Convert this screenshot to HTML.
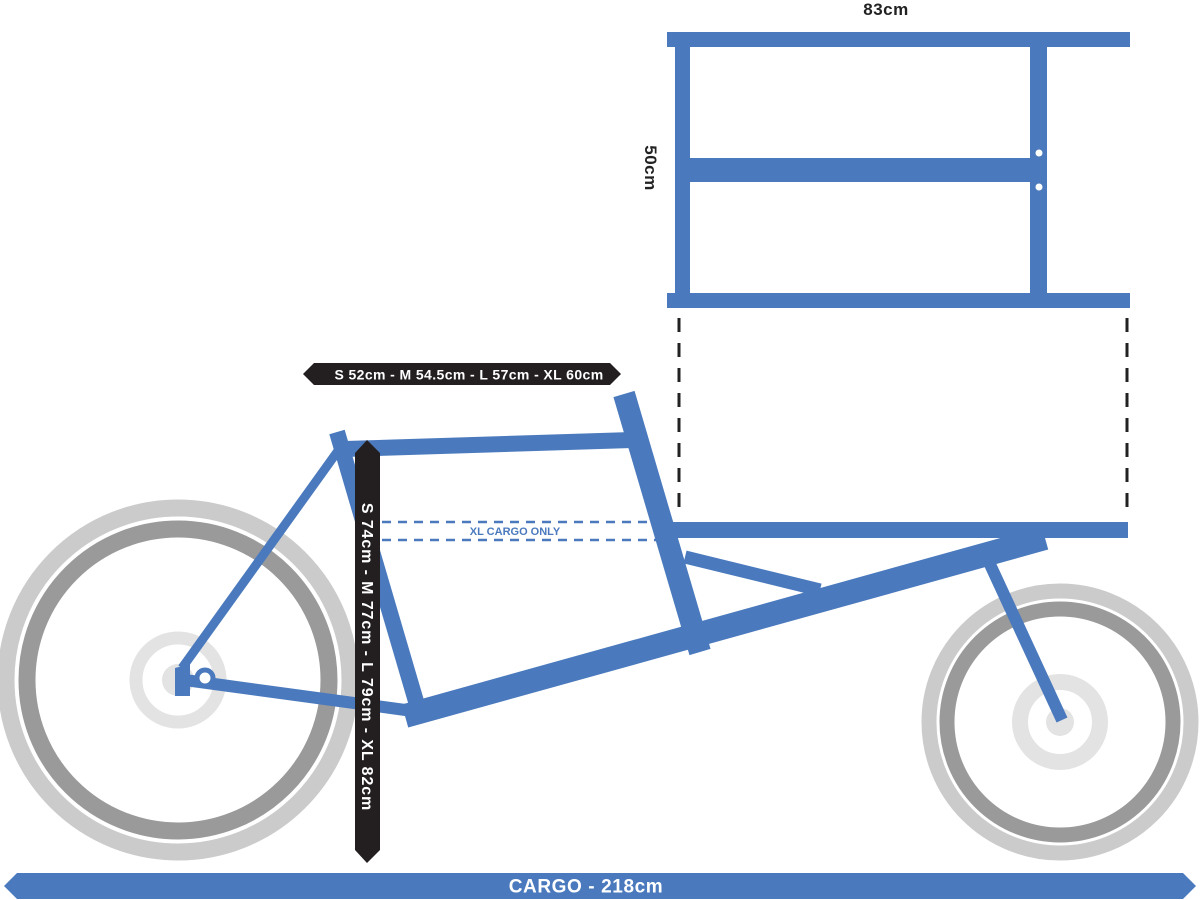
<!DOCTYPE html>
<html><head><meta charset="utf-8"><style>
html,body{margin:0;padding:0;background:#fff;width:1200px;height:900px;overflow:hidden}
svg{display:block}
text{font-family:"Liberation Sans",sans-serif;font-weight:bold}
</style></head><body>
<svg width="1200" height="900" viewBox="0 0 1200 900" xmlns="http://www.w3.org/2000/svg">
<!-- rear wheel -->
<circle cx="178" cy="680" r="172" fill="none" stroke="#cbcbcb" stroke-width="17"/>
<circle cx="178" cy="680" r="151" fill="none" stroke="#9a9a9a" stroke-width="17"/>
<circle cx="178" cy="680" r="42" fill="none" stroke="#e3e3e3" stroke-width="13"/>
<circle cx="178" cy="680" r="16" fill="#e3e3e3"/>
<!-- front wheel -->
<circle cx="1060" cy="722" r="131" fill="none" stroke="#cbcbcb" stroke-width="15"/>
<circle cx="1060" cy="722" r="113" fill="none" stroke="#9a9a9a" stroke-width="15"/>
<circle cx="1060" cy="722" r="40" fill="none" stroke="#e3e3e3" stroke-width="16"/>
<circle cx="1060" cy="722" r="14" fill="#e3e3e3"/>
<g stroke="#4a7abd" fill="none" stroke-linecap="butt">
<line x1="340" y1="448" x2="182" y2="668" stroke-width="9"/>
<line x1="185" y1="680" x2="420" y2="712" stroke-width="12"/>
<line x1="337" y1="432" x2="420" y2="715" stroke-width="16"/>
<line x1="345" y1="449" x2="632" y2="440" stroke-width="16"/>
<line x1="405" y1="716" x2="1045" y2="538" stroke-width="24"/>
<line x1="624" y1="394" x2="700" y2="652" stroke-width="22"/>
<line x1="685" y1="557" x2="820" y2="590" stroke-width="13"/>
<line x1="668" y1="530" x2="1128" y2="530" stroke-width="16"/>
<line x1="988" y1="560" x2="1062" y2="720" stroke-width="12"/>
<circle cx="205" cy="678" r="8" stroke-width="5" fill="#fff"/>
<!-- box -->
<line x1="667" y1="39.5" x2="1130" y2="39.5" stroke-width="15"/>
<line x1="667" y1="300.5" x2="1130" y2="300.5" stroke-width="15"/>
<line x1="690" y1="170" x2="1040" y2="170" stroke-width="24"/>
<line x1="682.5" y1="32" x2="682.5" y2="308" stroke-width="15"/>
<line x1="1038.5" y1="32" x2="1038.5" y2="308" stroke-width="17"/>
</g>
<polygon points="175,668 190,664 190,696 175,696" fill="#4a7abd"/>
<circle cx="1039" cy="153" r="3.5" fill="#fff"/>
<circle cx="1039" cy="187" r="3.5" fill="#fff"/>
<!-- dashed -->
<g stroke="#222" stroke-width="3" stroke-dasharray="14 11">
<line x1="679" y1="318" x2="679" y2="515"/>
<line x1="1127" y1="318" x2="1127" y2="515"/>
</g>
<g stroke="#4a7abd" stroke-width="2.5" stroke-dasharray="9 7">
<line x1="382" y1="522" x2="668" y2="522"/>
<line x1="382" y1="540" x2="668" y2="540"/>
</g>
<text x="515" y="535" font-size="11" fill="#4a7abd" text-anchor="middle">XL CARGO ONLY</text>
<text x="886" y="15" font-size="17" fill="#222" text-anchor="middle" letter-spacing="0.5">83cm</text>
<text transform="translate(645,168) rotate(90)" font-size="17" fill="#222" text-anchor="middle" letter-spacing="0.5">50cm</text>
<!-- black pill top -->
<polygon points="303,374 314,363 610,363 621,374 610,385 314,385" fill="#231f20"/>
<text x="469" y="379.5" font-size="14" fill="#fff" text-anchor="middle" letter-spacing="0.4">S 52cm - M 54.5cm - L 57cm - XL 60cm</text>
<!-- vertical bar -->
<polygon points="367,440 380,453 380,850 367,863 355,850 355,453" fill="#231f20"/>
<text transform="translate(362,657) rotate(90)" font-size="16" fill="#fff" text-anchor="middle" letter-spacing="0.9">S 74cm - M 77cm - L 79cm - XL 82cm</text>
<!-- bottom bar -->
<polygon points="4,886 17,873 1183,873 1196,886 1183,899 17,899" fill="#4a7abd"/>
<text x="586" y="892.5" font-size="19" fill="#fff" text-anchor="middle" letter-spacing="0.6">CARGO - 218cm</text>
</svg>
</body></html>
